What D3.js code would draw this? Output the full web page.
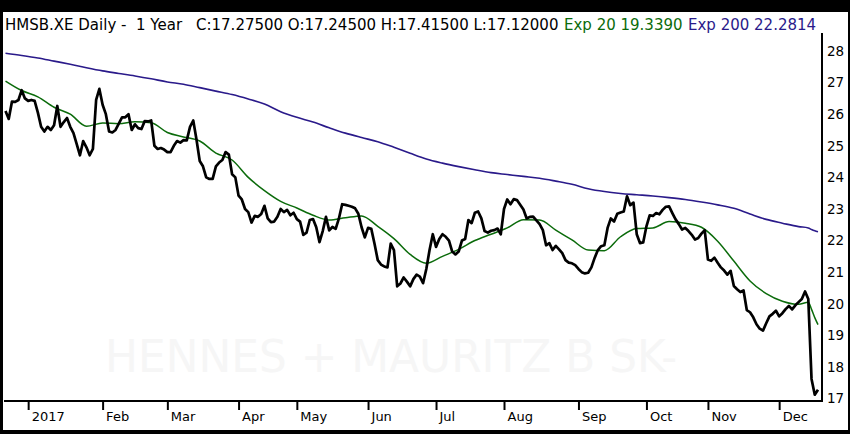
<!DOCTYPE html>
<html>
<head>
<meta charset="utf-8">
<script src="https://cdn.jsdelivr.net/npm/d3@7"></script>
<style>
  html, body { margin: 0; padding: 0; background: #000; }
  svg { display: block; }
  text { font-family: "DejaVu Sans", Verdana, sans-serif; white-space: pre; }
</style>
</head>
<body>
<svg id="chart" width="850" height="434"></svg>
<script>
// Daily closes, one per trading day (late Dec 2016 .. mid Dec 2017).
const closes = [
  26.10, 25.85, 26.40, 26.39, 26.45, 26.76, 26.50, 26.42, 26.45, 26.42,
  26.05, 25.60, 25.45, 25.60, 25.50, 25.65, 26.26, 25.60, 25.75, 25.88,
  25.60, 25.40, 25.05, 24.70, 25.15, 24.95, 24.70, 24.90, 26.45, 26.80,
  26.30, 26.00, 25.45, 25.42, 25.50, 25.70, 25.90, 25.90, 26.00, 25.50,
  25.68, 25.56, 25.53, 25.78, 25.77, 25.80, 25.00, 24.90, 24.93, 24.88,
  24.80, 24.80, 25.00, 25.15, 25.10, 25.18, 25.17, 25.60, 25.80, 25.20,
  24.52, 24.35, 24.00, 23.95, 23.95, 24.35, 24.47, 24.55, 24.80, 24.72,
  24.10, 24.00, 23.42, 23.30, 23.00, 22.90, 22.57, 22.78, 22.75, 22.84,
  23.10, 22.70, 22.58, 22.60, 22.75, 23.00, 22.90, 22.97, 22.80, 22.88,
  22.68, 22.60, 22.18, 22.25, 22.65, 22.68, 22.42, 21.95, 22.30, 22.75,
  22.32, 22.43, 22.37, 22.70, 23.15, 23.13, 23.10, 23.07, 23.02, 22.85,
  22.42, 22.10, 22.40, 22.37, 21.90, 21.38, 21.24, 21.18, 21.15, 21.90,
  21.70, 20.55, 20.64, 20.83, 20.70, 20.55, 20.78, 20.92, 20.86, 20.65,
  21.10, 21.70, 22.20, 21.80, 22.05, 22.20, 22.12, 22.00, 21.65, 21.56,
  21.65, 22.00, 22.05, 22.65, 22.55, 22.88, 22.92, 22.70, 22.30, 22.25,
  22.31, 22.33, 22.38, 22.20, 23.00, 23.30, 23.15, 23.31, 23.28, 23.13,
  22.98, 22.70, 22.75, 22.76, 22.64, 22.52, 22.33, 21.85, 21.92, 21.70,
  21.83, 21.72, 21.60, 21.38, 21.30, 21.28, 21.22, 21.10, 21.00, 20.96,
  20.98, 21.15, 21.45, 21.70, 21.82, 21.85, 22.40, 22.70, 22.60, 22.85,
  22.89, 22.92, 23.40, 23.12, 23.20, 22.20, 21.92, 21.94, 22.45, 22.80,
  22.78, 22.87, 22.83, 22.97, 23.07, 23.08, 22.87, 22.67, 22.52, 22.35,
  22.40, 22.30, 22.18, 22.03, 22.08, 22.22, 22.33, 21.40, 21.36, 21.46,
  21.30, 21.15, 21.05, 20.92, 21.04, 20.56, 20.46, 20.37, 20.42, 19.80,
  19.73, 19.57, 19.35, 19.21, 19.15, 19.38, 19.60, 19.68, 19.78, 19.60,
  19.70, 19.83, 19.93, 19.82, 19.95, 20.05, 20.15, 20.39, 20.15, 17.62,
  17.12, 17.28
];

// Moving averages, read at these trading-day positions.
const emaDays = [
  0, 5, 10, 15, 20, 25, 30, 35, 40, 45, 50, 55, 60, 65, 70, 75, 80, 85, 90, 95,
  100, 105, 110, 115, 120, 125, 130, 135, 140, 145, 150, 155, 160, 165, 170, 175,
  180, 185, 190, 195, 200, 205, 210, 215, 220, 225, 230, 235, 240, 245,
  248, 249, 250, 251
];
const ema20 = [
  27.05, 26.75, 26.55, 26.22, 26.00, 25.62, 25.72, 25.70, 25.76, 25.73,
  25.42, 25.28, 25.15, 24.77, 24.55, 24.00, 23.58, 23.24, 23.03, 22.80,
  22.65, 22.72, 22.78, 22.45, 22.06, 21.56, 21.28, 21.50, 21.72, 22.00,
  22.20, 22.40, 22.66, 22.65, 22.33, 22.02, 21.70, 21.68, 22.12, 22.38,
  22.40, 22.60, 22.55, 22.42, 21.98, 21.35, 20.72, 20.32, 20.08, 19.98,
  20.05, 19.82, 19.56, 19.34
];
const ema200 = [
  27.93, 27.86, 27.78, 27.68, 27.58, 27.47, 27.37, 27.29, 27.21, 27.12,
  27.02, 26.95, 26.84, 26.73, 26.62, 26.48, 26.32, 26.08, 25.90, 25.75,
  25.57, 25.40, 25.26, 25.13, 24.95, 24.76, 24.58, 24.45, 24.34, 24.24,
  24.15, 24.09, 24.03, 23.97, 23.88, 23.78, 23.64, 23.55, 23.49, 23.45,
  23.41, 23.36, 23.30, 23.22, 23.13, 23.02, 22.84, 22.67, 22.55, 22.44,
  22.40, 22.35, 22.31, 22.28
];

// Month ticks (trading-day index of first session) and labels.
const monthDays = [7, 30, 50, 72, 90, 112, 133, 154, 177, 198, 217, 239];
const monthLabels = ["2017", "Feb", "Mar", "Apr", "May", "Jun", "Jul", "Aug", "Sep", "Oct", "Nov", "Dec"];
const priceTicks = [17, 18, 19, 20, 21, 22, 23, 24, 25, 26, 27, 28];

const titleText = "HMSB.XE Daily -  1 Year";
const ohlcText = "C:17.27500 O:17.24500 H:17.41500 L:17.12000";
const ema20Text = "Exp 20 19.3390";
const ema200Text = "Exp 200 22.2814";
const watermark = "HENNES + MAURITZ B SK-";

const W = 850, H = 434;
const plot = {left: 4, right: 822, top: 33, bottom: 401};

const closeColor = "#000000";
const ema20Color = "#0b6b0b";
const ema200Color = "#2a1a8a";

let svg = d3.select("#chart");

// Frame: black border with white panel.
svg.append("rect").attr("width", W).attr("height", H).attr("fill", "#000");
svg.append("rect")
    .attr("x", 3).attr("y", 12)
    .attr("width", 845).attr("height", 418)
    .attr("fill", "#fff");

let x = d3.scaleLinear().domain([0, closes.length - 1]).range([5.5, 818]);
let y = d3.scaleLinear().domain([17, 28]).range([398.5, 51]);

// Faint watermark behind the data.
svg.append("text")
    .attr("x", 391).attr("y", 372)
    .attr("text-anchor", "middle")
    .attr("font-size", 44)
    .attr("fill", "#f6f6f6")
    .attr("textLength", 572)
    .attr("lengthAdjust", "spacingAndGlyphs")
    .text(watermark);

// Header line, pieces placed where they sit in the original.
let header = svg.append("g").attr("font-size", 15);
[
    {t: titleText, x: 5, c: "#000"},
    {t: ohlcText, x: 196, c: "#000"},
    {t: ema20Text, x: 564, c: ema20Color},
    {t: ema200Text, x: 688, c: ema200Color}
].forEach(p => {
    header.append("text")
        .attr("x", p.x).attr("y", 30)
        .attr("fill", p.c)
        .text(p.t);
});

// Lines.
let emaLine = d3.line()
    .x(d => x(d[0]))
    .y(d => y(d[1]))
    .curve(d3.curveMonotoneX);

svg.append("path")
    .datum(d3.zip(emaDays, ema200))
    .attr("fill", "none")
    .attr("stroke", ema200Color)
    .attr("stroke-width", 1.6)
    .attr("d", emaLine);

svg.append("path")
    .datum(d3.zip(emaDays, ema20))
    .attr("fill", "none")
    .attr("stroke", ema20Color)
    .attr("stroke-width", 1.5)
    .attr("d", emaLine);

svg.append("path")
    .datum(closes)
    .attr("fill", "none")
    .attr("stroke", closeColor)
    .attr("stroke-width", 2.7)
    .attr("stroke-linejoin", "round")
    .attr("d", d3.line().x((d, i) => x(i)).y(d => y(d)));

// Bottom axis with month ticks.
let xAxis = svg.append("g")
    .attr("transform", `translate(0,${plot.bottom})`)
    .call(d3.axisBottom(x)
        .tickValues(monthDays)
        .tickSize(9)
        .tickFormat((d, i) => monthLabels[i]));
xAxis.select(".domain").remove();
xAxis.selectAll(".tick line").attr("stroke", "#000").attr("stroke-width", 2);
xAxis.selectAll(".tick text")
    .attr("text-anchor", "start")
    .attr("x", 3)
    .attr("y", 11)
    .attr("fill", "#000")
    .attr("font-size", 13)
    .attr("font-family", "DejaVu Sans, Verdana, sans-serif");

svg.append("line")
    .attr("x1", plot.left).attr("x2", plot.right + 1)
    .attr("y1", plot.bottom).attr("y2", plot.bottom)
    .attr("stroke", "#000").attr("stroke-width", 2);

// Right price axis.
let yAxis = svg.append("g")
    .attr("transform", `translate(${plot.right},0)`)
    .call(d3.axisRight(y).tickValues(priceTicks).tickSize(0).tickPadding(5));
yAxis.select(".domain").remove();
yAxis.selectAll(".tick text")
    .attr("fill", "#000")
    .attr("font-size", 13.5)
    .attr("font-family", "DejaVu Sans, Verdana, sans-serif");

svg.append("line")
    .attr("x1", plot.right).attr("x2", plot.right)
    .attr("y1", plot.top).attr("y2", plot.bottom + 1)
    .attr("stroke", "#000").attr("stroke-width", 2);
</script>
</body>
</html>
